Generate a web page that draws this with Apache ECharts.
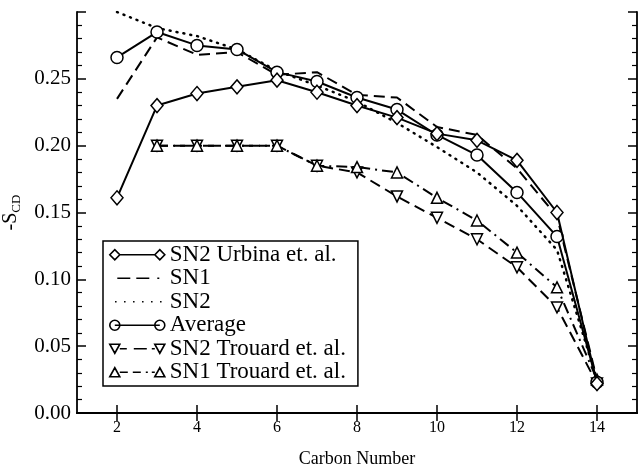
<!DOCTYPE html>
<html><head><meta charset="utf-8">
<script src="https://cdn.jsdelivr.net/npm/echarts@6/dist/echarts.min.js"></script>
<style>html,body{margin:0;padding:0;background:#fff}#c{width:639px;height:469px}</style>
</head><body><div id="c"></div>
<script>
const carbons = [2,3,4,5,6,7,8,9,10,11,12,13,14];
const carbonsTrouard = [3,4,5,6,7,8,9,10,11,12,13,14];
const sn2Urbina = [0.161,0.230,0.239,0.244,0.249,0.240,0.230,0.221,0.209,0.204,0.189,0.150,0.022];
const sn1 = [0.235,0.281,0.268,0.270,0.253,0.255,0.238,0.236,0.214,0.208,0.183,0.147,0.025];
const sn2 = [0.300,0.288,0.282,0.272,0.256,0.245,0.233,0.217,0.199,0.180,0.155,0.122,0.025];
const average = [0.266,0.285,0.275,0.272,0.255,0.248,0.236,0.227,0.208,0.193,0.165,0.132,0.023];
const sn2Trouard = [0.200,0.200,0.200,0.200,0.185,0.180,0.162,0.146,0.130,0.109,0.079,0.022];
const sn1Trouard = [0.200,0.200,0.200,0.200,0.185,0.184,0.180,0.161,0.144,0.120,0.094,0.025];
const xTicks = [2,4,6,8,10,12,14];
const names = ['SN2 Urbina et. al.','SN1','SN2','Average','SN2 Trouard et. al.','SN1 Trouard et. al.'];

const pair = (xs, ys) => xs.map((x,i)=>[x, ys[i]]);
const FONT = 'Liberation Serif';
const mk = {color:'#fff', borderColor:'#000', borderWidth:1.5};
const iconStyle = {color:'#fff', borderColor:'#000', borderWidth:1.6};

const diamondIcon = 'path://M0,10 L10,0 L20,10 L10,20 Z M90,10 L100,0 L110,10 L100,20 Z M20,10 L90,10';
const circleIcon = 'path://M0,10 A10,10 0 1 1 20,10 A10,10 0 1 1 0,10 Z M90,10 A10,10 0 1 1 110,10 A10,10 0 1 1 90,10 Z M10,10 L100,10';
const downIcon = 'path://M0,1 L20,1 L10,19 Z M90,1 L110,1 L100,19 Z M20,10 L34,10 M48,10 L74,10 M84,10 L90,10';
const upIcon = 'path://M0,19 L10,1 L20,19 Z M90,19 L100,1 L110,19 Z M20,10 L36,10 M46,10 L62,10 M72,10 L76,10 M84,10 L90,10';
const dashIcon = 'path://M0,0 L0,0 M0,20 L0,20 M4,10 L30,10 M42,10 L68,10 M84,10 L88,10';
const dotIcon = 'path://M0,0 L0,0 M0,20 L0,20 M4,10 L7,10 M22,10 L25,10 M40,10 L43,10 M58,10 L61,10 M76,10 L79,10 M94,10 L97,10';

const chart = echarts.init(document.getElementById('c'));
chart.setOption({
  animation:false,
  backgroundColor:'#fff',
  grid:{left:77, right:2, top:12, bottom:56, containLabel:false, outerBoundsMode:'none'},
  xAxis:[{
    type:'value', min:1, max:15,
    name:'Carbon Number', nameLocation:'middle', nameGap:37,
    nameTextStyle:{fontFamily:FONT, fontSize:18, color:'#000'},
    axisLine:{show:true, lineStyle:{color:'#000', width:1.8}},
    axisTick:{show:true, inside:true, length:8, customValues:xTicks, lineStyle:{color:'#000', width:1.5}},
    axisLabel:{customValues:xTicks, fontFamily:FONT, fontSize:16, color:'#000', margin:7},
    splitLine:{show:false}
  },{
    type:'value', min:1, max:15, position:'top',
    axisLine:{show:true, lineStyle:{color:'#000', width:1.8}},
    axisTick:{show:true, inside:true, length:8, customValues:xTicks, lineStyle:{color:'#000', width:1.5}},
    axisLabel:{show:false}, splitLine:{show:false}
  }],
  yAxis:[{
    type:'value', min:0, max:0.30, interval:0.05,
    name:'-S{sub|CD}', nameLocation:'middle', nameGap:52, nameRotate:90,
    nameTextStyle:{fontFamily:FONT, fontSize:20, color:'#000',
      rich:{sub:{fontFamily:FONT, fontSize:13, color:'#000', verticalAlign:'bottom', padding:[12,0,0,0]}}},
    axisLine:{show:true, lineStyle:{color:'#000', width:1.8}},
    axisTick:{show:true, inside:true, length:9, lineStyle:{color:'#000', width:1.5}},
    minorTick:{show:true, splitNumber:5, length:5, lineStyle:{color:'#000', width:1.2}},
    axisLabel:{formatter:v=>v.toFixed(2), showMaxLabel:false, fontFamily:FONT, fontSize:21, color:'#000', margin:6},
    splitLine:{show:false}
  },{
    type:'value', min:0, max:0.30, interval:0.05, position:'right',
    axisLine:{show:true, lineStyle:{color:'#000', width:1.8}},
    axisTick:{show:true, inside:true, length:9, lineStyle:{color:'#000', width:1.5}},
    minorTick:{show:true, splitNumber:5, length:5, lineStyle:{color:'#000', width:1.2}},
    axisLabel:{show:false}, splitLine:{show:false}
  }],
  legend:{
    orient:'vertical', left:103, top:241,
    padding:[2,12,2,6],
    itemGap:0, itemWidth:55, itemHeight:10,
    borderColor:'#000', borderWidth:1.5, backgroundColor:'#fff',
    textStyle:{fontFamily:FONT, fontSize:23, lineHeight:23.5, color:'#000'},
    data:[
      {name:names[0], icon:diamondIcon, itemStyle:iconStyle},
      {name:names[1], icon:dashIcon, itemStyle:iconStyle},
      {name:names[2], icon:dotIcon, itemStyle:iconStyle},
      {name:names[3], icon:circleIcon, itemStyle:iconStyle},
      {name:names[4], icon:downIcon, itemStyle:iconStyle},
      {name:names[5], icon:upIcon, itemStyle:iconStyle}
    ]
  },
  series:[
    {name:names[0], type:'line', data:pair(carbons, sn2Urbina), symbol:'diamond', symbolSize:[12,14],
     itemStyle:mk, lineStyle:{color:'#000', width:2}, z:5},
    {name:names[1], type:'line', data:pair(carbons, sn1), symbol:'none', itemStyle:{color:'#000'},
     lineStyle:{color:'#000', width:2, type:[11,6]}},
    {name:names[2], type:'line', data:pair(carbons, sn2), symbol:'none', itemStyle:{color:'#000'},
     lineStyle:{color:'#000', width:2.5, type:[1,6], cap:'round'}},
    {name:names[3], type:'line', data:pair(carbons, average), symbol:'circle', symbolSize:12,
     itemStyle:mk, lineStyle:{color:'#000', width:2}, z:4},
    {name:names[4], type:'line', data:pair(carbonsTrouard, sn2Trouard), symbol:'triangle', symbolRotate:180, symbolSize:11,
     itemStyle:mk, lineStyle:{color:'#000', width:2, type:[11,6]}},
    {name:names[5], type:'line', data:pair(carbonsTrouard, sn1Trouard), symbol:'triangle', symbolSize:11,
     itemStyle:mk, lineStyle:{color:'#000', width:2, type:[11,5,2,5]}}
  ]
});
</script></body></html>
